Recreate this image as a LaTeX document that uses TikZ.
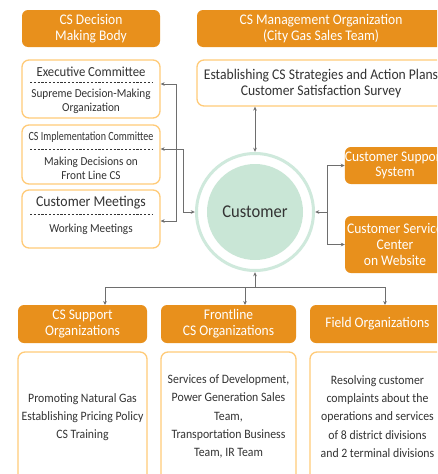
\documentclass[tikz,border=0pt]{standalone}
\usepackage{fontspec}
\setmainfont{Carlito}[FakeStretch=0.92]
\usetikzlibrary{arrows.meta,calc}
\definecolor{hdr}{HTML}{E8901C}
\definecolor{bdr}{HTML}{FFCB78}
\definecolor{ring}{HTML}{CFE9DC}
\definecolor{disk}{HTML}{C9E6D6}
\definecolor{txt}{HTML}{333333}
\definecolor{ln}{HTML}{6E6E6E}
\tikzset{
  hbox/.style={rectangle, rounded corners=6pt, fill=hdr, text=white, inner sep=0pt, align=center, font=\fontsize{14.7}{15.8}\selectfont},
  cbox/.style={rectangle, rounded corners=7pt, draw=bdr, line width=1.3pt, fill=white, inner sep=0pt},
  ttl/.style={text=txt, inner sep=0pt, align=center, font=\fontsize{13.8}{15}\selectfont},
  sub/.style={text=txt, inner sep=0pt, align=center, font=\fontsize{12.2}{13.8}\selectfont},
  body/.style={text=txt, inner sep=0pt, align=center, font=\fontsize{12.8}{18.2}\selectfont},
  conn/.style={draw=ln, line width=0.9pt},
  mytip/.tip={Stealth[length=4pt,width=3.6pt]},
  divider/.style={draw=txt, line width=0.6pt, dash pattern=on 2.2pt off 1.6pt},
}
\begin{document}
\begin{tikzpicture}[x=1pt,y=-1pt]
\useasboundingbox (0,0) rectangle (437,474);
\clip (0,0) rectangle (437,474);
\fill[white] (0,0) rectangle (437,474);
% headers top
\node[hbox, minimum width=138pt, minimum height=37pt] (hdec) at (91,28.5) {CS Decision\\Making Body};
\node[hbox, minimum width=248pt, minimum height=37pt] (hman) at (321,28.5) {CS Management Organization\\(City Gas Sales Team)};
% left boxes
\node[cbox, minimum width=138pt, minimum height=58pt] (exec) at (91,89) {};
\node[ttl] (exect) at (91,72) {Executive Committee};
\node[sub] (execs) at (91,101.5) {Supreme Decision-Making\\Organization};
\draw[divider] (30,82) -- (152,82);
\node[cbox, minimum width=138pt, minimum height=59pt] (impl) at (91,154.5) {};
\node[ttl, font=\fontsize{12.5}{15}\selectfont, xscale=0.87] (implt) at (91,137) {CS Implementation Committee};
\node[sub] (impls) at (91,168) {Making Decisions on\\Front Line CS};
\draw[divider] (30,149) -- (152,149);
\node[cbox, minimum width=138pt, minimum height=58pt] (meet) at (91,219) {};
\node[ttl, font=\fontsize{15}{17}\selectfont] (meett) at (91,203) {Customer Meetings};
\node[sub] (meets) at (91,229) {Working Meetings};
\draw[divider] (30,214) -- (152,214);
% establishing box
\node[cbox, minimum width=248pt, minimum height=46pt] (estab) at (321,83) {};
\node[ttl, font=\fontsize{14.8}{16.7}\selectfont] (estabt) at (321,83.5) {Establishing CS Strategies and Action Plans\\Customer Satisfaction Survey};
% customer circle
\draw[ring, line width=3pt] (255,212) circle (58.5);
\node[circle, fill=disk, minimum size=96pt, inner sep=0pt, text=txt, font=\fontsize{18}{20}\selectfont] (custd) at (255,212) {Customer};
\node[circle, minimum size=120pt, inner sep=0pt] (cust) at (255,212) {};
% right boxes
\node[hbox, minimum width=100pt, minimum height=37pt, font=\fontsize{14.7}{15}\selectfont] (sup) at (395,165.5) {Customer Support\\System};
\node[hbox, minimum width=100pt, minimum height=57pt, font=\fontsize{14.7}{16}\selectfont] (svc) at (395,244.5) {Customer Service\\Center\\on Website};
% bottom headers
\node[hbox, minimum width=129pt, minimum height=38pt] (hsup) at (82.5,324) {CS Support\\Organizations};
\node[hbox, minimum width=135pt, minimum height=38pt] (hfro) at (228.5,324) {Frontline\\CS Organizations};
\node[hbox, minimum width=135pt, minimum height=38pt] (hfld) at (377.5,324) {Field Organizations};
% bottom boxes
\node[cbox, minimum width=129pt, minimum height=140pt] (bsup) at (82.5,422) {};
\node[body] (bsupt) at (82.5,417) {Promoting Natural Gas\\Establishing Pricing Policy\\CS Training};
\node[cbox, minimum width=135pt, minimum height=140pt] (bfro) at (228.5,422) {};
\node[body] (bfrot) at (228.5,416.5) {Services of Development,\\Power Generation Sales\\Team,\\Transportation Business\\Team, IR Team};
\node[cbox, minimum width=135pt, minimum height=140pt] (bfld) at (377.5,422) {};
\node[body] (bfldt) at (377.5,416.5) {Resolving customer\\complaints about the\\operations and services\\of 8 district divisions\\and 2 terminal divisions};
% connectors left
\coordinate (j1) at (176,84);
\coordinate (j2) at (176,221);
\coordinate (j3) at (183,212);
\draw[conn, mytip-mytip] ([yshift=5pt]exec.east) -- (j1) -- (j2) -- (j2 -| meet.east);
\draw[conn, mytip-mytip] ([yshift=5.5pt]impl.east) -| (j3) -- (cust.west);
% top
\draw[conn, mytip-mytip] (estab.south -| cust.north) -- (cust.north);
% right
\coordinate (r1) at (327,212);
\draw[conn, -mytip] (r1) -- (cust.east);
\draw[conn, -mytip] (r1) |- (sup.west);
\draw[conn, -mytip] (r1) |- (svc.west);
% bottom
\coordinate (b1) at (255,287);
\coordinate (a1) at (105,305);
\coordinate (a2) at (245,305);
\coordinate (a3) at (385,305);
\draw[conn, -mytip] (b1) -- (cust.south);
\draw[conn] (a1 |- b1) -- (a3 |- b1);
\draw[conn, -mytip] (a1 |- b1) -- (a1);
\draw[conn, -mytip] (a2 |- b1) -- (a2);
\draw[conn, -mytip] (a3 |- b1) -- (a3);
\end{tikzpicture}
\end{document}
